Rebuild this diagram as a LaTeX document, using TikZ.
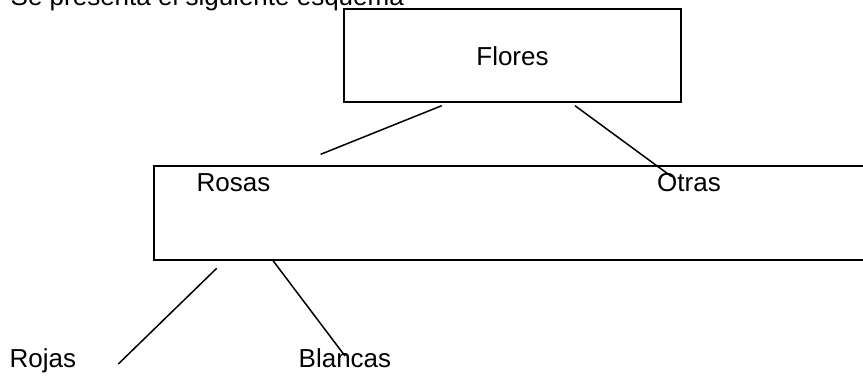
\documentclass[tikz,border=0pt]{standalone}
\usepackage{fontspec}
\setmainfont{Liberation Sans}
\begin{document}
\begin{tikzpicture}[x=1pt,y=-1pt,
  boxst/.style={draw, line width=2pt, inner sep=0pt},
  lbl/.style={anchor=base west, inner sep=0pt, font=\fontsize{26}{30}\selectfont},
  conn/.style={line width=1.5pt}]
\clip (0,0) rectangle (863,383);
\useasboundingbox (0,0) rectangle (863,383);
% title (cut at top)
\node[lbl] (title) at (10.5,5) {Se presenta el siguiente esquema};
% Flores box
\node[boxst, minimum width=337pt, minimum height=93pt, font=\fontsize{26}{30}\selectfont] (flores) at (512.5,55.8) {Flores};
% Rosas/Otras box (extends beyond right edge)
\node[boxst, minimum width=747pt, minimum height=94pt, anchor=north west] (group) at (153,165) {};
\node[lbl] (rosas) at (196.5,191.7) {Rosas};
\node[lbl] (otras) at (657,191.7) {Otras};
\node[lbl] (rojas) at (9.5,367) {Rojas};
\node[lbl] (blancas) at (298.5,367) {Blancas};
% connector end points
\coordinate (c1a) at (441.7,105.7);
\coordinate (c1b) at (320.7,154.3);
\coordinate (c2a) at (575,105.7);
\coordinate (c2b) at (671.7,176.7);
\coordinate (c3a) at (216.7,268.3);
\coordinate (c3b) at (118.3,364);
\coordinate (c4a) at (273.3,261);
\coordinate (c4b) at (345,356);
\draw[conn] (c1a) -- (c1b);
\draw[conn] (c2a) -- (c2b);
\draw[conn] (c3a) -- (c3b);
\draw[conn] (c4a) -- (c4b);
\end{tikzpicture}
\end{document}
